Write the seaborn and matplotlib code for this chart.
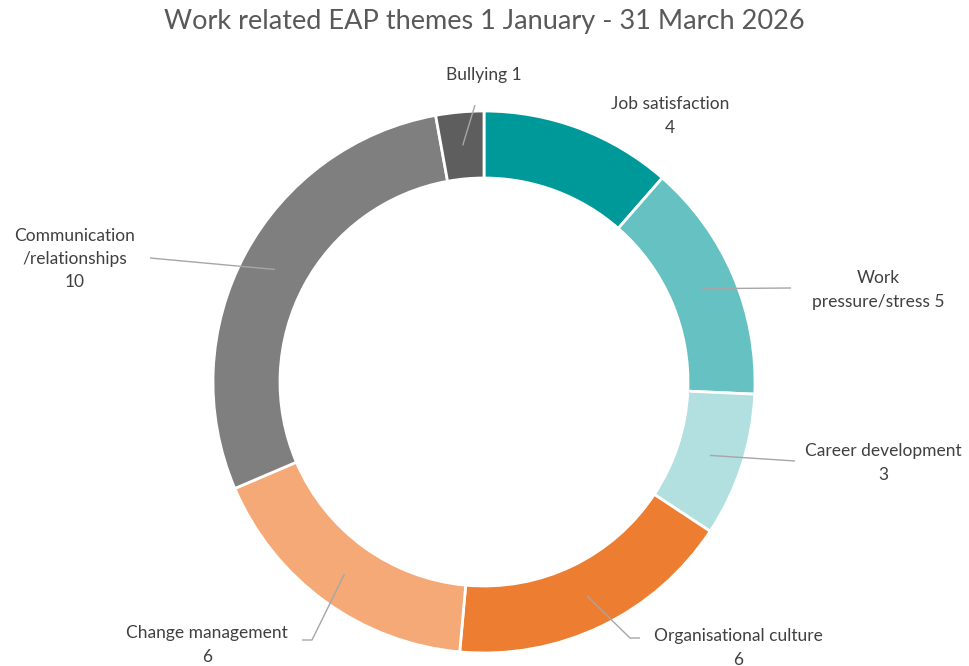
import matplotlib
matplotlib.use("Agg")
import matplotlib.pyplot as plt
import seaborn as sns
import numpy as np

# Work related EAP themes, counts per theme (clockwise from the top)
themes = ["Job satisfaction", "Work\npressure/stress", "Career development",
          "Organisational culture", "Change management",
          "Communication\n/relationships", "Bullying"]
counts = [4, 5, 3, 6, 6, 10, 1]
separators = ["\n", " ", "\n", "\n", "\n", "\n", " "]
colors = ["#009999", "#66C2C2", "#B2DFDF", "#ED7D31", "#F4A977", "#7F7F7F", "#5E5E5E"]
title = "Work related EAP themes 1 January - 31 March 2026"

sns.set_theme(style="white")
plt.rcParams["font.family"] = ["Lato", "DejaVu Sans"]

W, H = 970, 666
fig = plt.figure(figsize=(W / 100, H / 100), dpi=100)
ax = fig.add_axes([0, 0, 1, 1])


def P(x, y):
    """Pixel position (origin top-left) to axes data coordinates."""
    return x, H - y


cx, cy = P(484, 382)
R_OUT, RING = 271, 67

ax.pie(counts, colors=colors, startangle=90, counterclock=False,
       center=(cx, cy), radius=R_OUT, frame=True,
       wedgeprops=dict(width=RING, edgecolor="white", linewidth=2))
ax.set_xlim(0, W)
ax.set_ylim(0, H)
ax.set_aspect("auto")
ax.axis("off")

# label placement: text centre, and leader path from text towards the ring
label_pos = [(670, 116), (878, 290), (883, 463), (738, 648),
             (207, 645), (75, 259), (484, 75)]
leader_start = [None, [(791, 288)], [(795, 461)], [(640, 638), (630, 638)],
                [(302, 640), (312, 640)], [(150, 258)], [(475, 105)]]

total = sum(counts)
cum = np.cumsum(counts)
r_mid = R_OUT - RING / 2
text_color = "#404040"
line_color = "#A6A6A6"

for name, v, c, sep, pos, lead in zip(themes, counts, cum, separators,
                                      label_pos, leader_start):
    ang = np.deg2rad(90 - 360 * (c - v / 2) / total)
    end = (cx + r_mid * np.cos(ang), cy + r_mid * np.sin(ang))
    if lead is not None:
        pts = [P(*p) for p in lead] + [end]
        ax.plot([p[0] for p in pts], [p[1] for p in pts],
                color=line_color, lw=1, zorder=3, solid_capstyle="butt")
    tx, ty = P(*pos)
    ax.text(tx, ty, f"{name}{sep}{v}", ha="center", va="center",
            fontsize=12.5, color=text_color, linespacing=1.55, zorder=4)

tx, ty = P(484, 22)
ax.text(tx, ty, title, ha="center", va="center", fontsize=19.5, color="#595959")

fig.savefig("out.png", dpi=100, facecolor="white")
